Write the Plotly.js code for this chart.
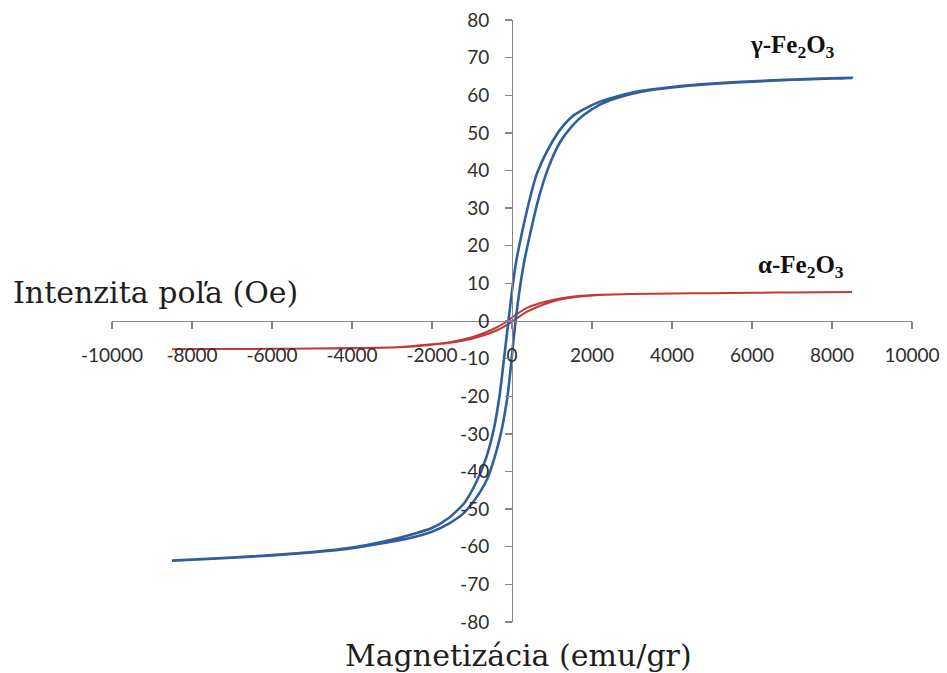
<!DOCTYPE html>
<html>
<head>
<meta charset="utf-8">
<script src="https://cdn.plot.ly/plotly-3.0.1.min.js"></script>
<style>
  html, body { margin: 0; padding: 0; background: #ffffff; }
  #chart { width: 947px; height: 673px; }
</style>
</head>
<body>
<div id="chart"></div>
<script>
// Hysteresis loops: field H (Oe) vs magnetisation M (emu/g)

// gamma-Fe2O3, descending-field branch
const gammaDownH = [8500, 7000, 6000, 5000, 4000, 3200, 2600, 2200, 1800, 1500, 1200, 1000, 800, 600, 400, 250, 100, 0, -100, -200, -300, -450, -650, -900, -1200, -1600, -2000, -2600, -3200, -4000, -5000, -6000, -7000, -8500];
const gammaDownM = [64.6, 64.2, 63.7, 63.1, 62.2, 61.1, 59.6, 58.3, 56.3, 54.3, 50.8, 47.5, 43.5, 38.5, 30.5, 23.5, 15.5, 8.0, -1.0, -10.0, -19.0, -28.5, -36.5, -43.0, -48.5, -52.5, -55.0, -57.0, -58.6, -60.2, -61.4, -62.2, -62.9, -63.7];

// gamma-Fe2O3, ascending-field branch
const gammaUpH = [-8500, -7000, -6000, -5000, -4000, -3200, -2600, -2000, -1600, -1200, -1000, -800, -600, -400, -250, -100, 0, 100, 200, 300, 450, 650, 900, 1200, 1500, 1800, 2200, 2600, 3200, 4000, 5000, 6000, 7000, 8500];
const gammaUpM = [-63.7, -62.9, -62.3, -61.5, -60.4, -59.0, -57.8, -56.0, -54.0, -51.0, -48.5, -45.5, -41.5, -35.0, -28.5, -19.0, -9.0, 1.0, 9.0, 15.5, 23.0, 32.0, 40.5, 47.5, 51.8, 54.8, 57.5, 59.2, 60.9, 62.1, 63.0, 63.6, 64.1, 64.6];

// alpha-Fe2O3, descending-field branch
const alphaDownH = [8500, 7000, 6000, 5000, 4000, 3000, 2200, 1600, 1200, 900, 600, 400, 200, 0, -200, -400, -700, -1000, -1500, -2000, -2800, -4000, -5000, -6000, -7000, -8500];
const alphaDownM = [7.7, 7.6, 7.5, 7.4, 7.3, 7.2, 7.0, 6.6, 6.0, 5.3, 4.4, 3.6, 2.4, 0.9, -0.6, -1.8, -3.2, -4.3, -5.5, -6.2, -6.9, -7.2, -7.3, -7.4, -7.45, -7.5];

// alpha-Fe2O3, ascending-field branch
const alphaUpH = [-8500, -7000, -6000, -5000, -4000, -2800, -2000, -1500, -1000, -700, -400, -200, 0, 200, 400, 600, 900, 1200, 1600, 2200, 3000, 4000, 5000, 6000, 7000, 8500];
const alphaUpM = [-7.5, -7.45, -7.4, -7.3, -7.25, -7.0, -6.3, -5.7, -4.7, -3.8, -2.6, -1.5, -0.2, 1.3, 2.6, 3.6, 4.8, 5.7, 6.4, 6.9, 7.2, 7.3, 7.4, 7.5, 7.6, 7.7];

const xTicks = [-10000, -8000, -6000, -4000, -2000, 0, 2000, 4000, 6000, 8000, 10000];
const yTicks = [-80, -70, -60, -50, -40, -30, -20, -10, 0, 10, 20, 30, 40, 50, 60, 70, 80];

const xTitle = 'Intenzita poľa (Oe)';
const yTitle = 'Magnetizácia (emu/gr)';
const gammaLabel = 'γ-Fe<sub>2</sub>O<sub>3</sub>';
const alphaLabel = 'α-Fe<sub>2</sub>O<sub>3</sub>';

const blue = '#2f5f9c';
const red = '#c23a3a';

const traces = [
  { x: alphaDownH.concat(alphaUpH), y: alphaDownM.concat(alphaUpM),
    mode: 'lines', line: { color: red, width: 2, shape: 'spline', smoothing: 0.6 }, hoverinfo: 'skip' },
  { x: gammaDownH.concat(gammaUpH), y: gammaDownM.concat(gammaUpM),
    mode: 'lines', line: { color: blue, width: 2.6, shape: 'spline', smoothing: 0.6 }, hoverinfo: 'skip' }
];

const tickFont = { family: 'Lato, "Open Sans", sans-serif', size: 19, color: '#2e2e2e' };
const titleFont = { family: '"DejaVu Serif", "Liberation Serif", serif', size: 30, color: '#1e1e1e' };
const labelFont = { family: '"Liberation Serif", serif', size: 25, color: '#111111' };

const layout = {
  width: 947, height: 673,
  margin: { l: 112, r: 35, t: 20, b: 51 },
  paper_bgcolor: '#ffffff', plot_bgcolor: '#ffffff',
  showlegend: false,
  xaxis: {
    range: [-10000, 10000], tickvals: xTicks, ticktext: xTicks.map(String),
    anchor: 'free', position: 0.5, side: 'bottom',
    showline: true, linecolor: '#868686', linewidth: 1.3,
    ticks: 'outside', ticklen: 7, tickcolor: '#868686', tickwidth: 1.3,
    ticklabelstandoff: 10,
    showgrid: false, zeroline: false, tickfont: tickFont
  },
  yaxis: {
    range: [-80, 80], tickvals: yTicks, ticktext: yTicks.map(String),
    anchor: 'free', position: 0.5, side: 'left',
    showline: true, linecolor: '#868686', linewidth: 1.3,
    ticks: 'outside', ticklen: 7, tickcolor: '#868686', tickwidth: 1.3,
    ticklabelstandoff: 12,
    showgrid: false, zeroline: false, tickfont: tickFont
  },
  annotations: [
    { text: xTitle, xref: 'paper', yref: 'paper', x: -0.126, y: 0.548,
      xanchor: 'left', yanchor: 'middle', showarrow: false, font: titleFont },
    { text: yTitle, xref: 'paper', yref: 'paper', x: 0.5075, y: -0.055,
      xanchor: 'center', yanchor: 'middle', showarrow: false, font: titleFont },
    { text: '<b>' + gammaLabel + '</b>', xref: 'x', yref: 'y', x: 7000, y: 73,
      xanchor: 'center', yanchor: 'middle', showarrow: false, font: labelFont },
    { text: '<b>' + alphaLabel + '</b>', xref: 'x', yref: 'y', x: 7225, y: 14.5,
      xanchor: 'center', yanchor: 'middle', showarrow: false, font: labelFont }
  ]
};

Plotly.newPlot('chart', traces, layout, { displayModeBar: false, staticPlot: true });
</script>
</body>
</html>
